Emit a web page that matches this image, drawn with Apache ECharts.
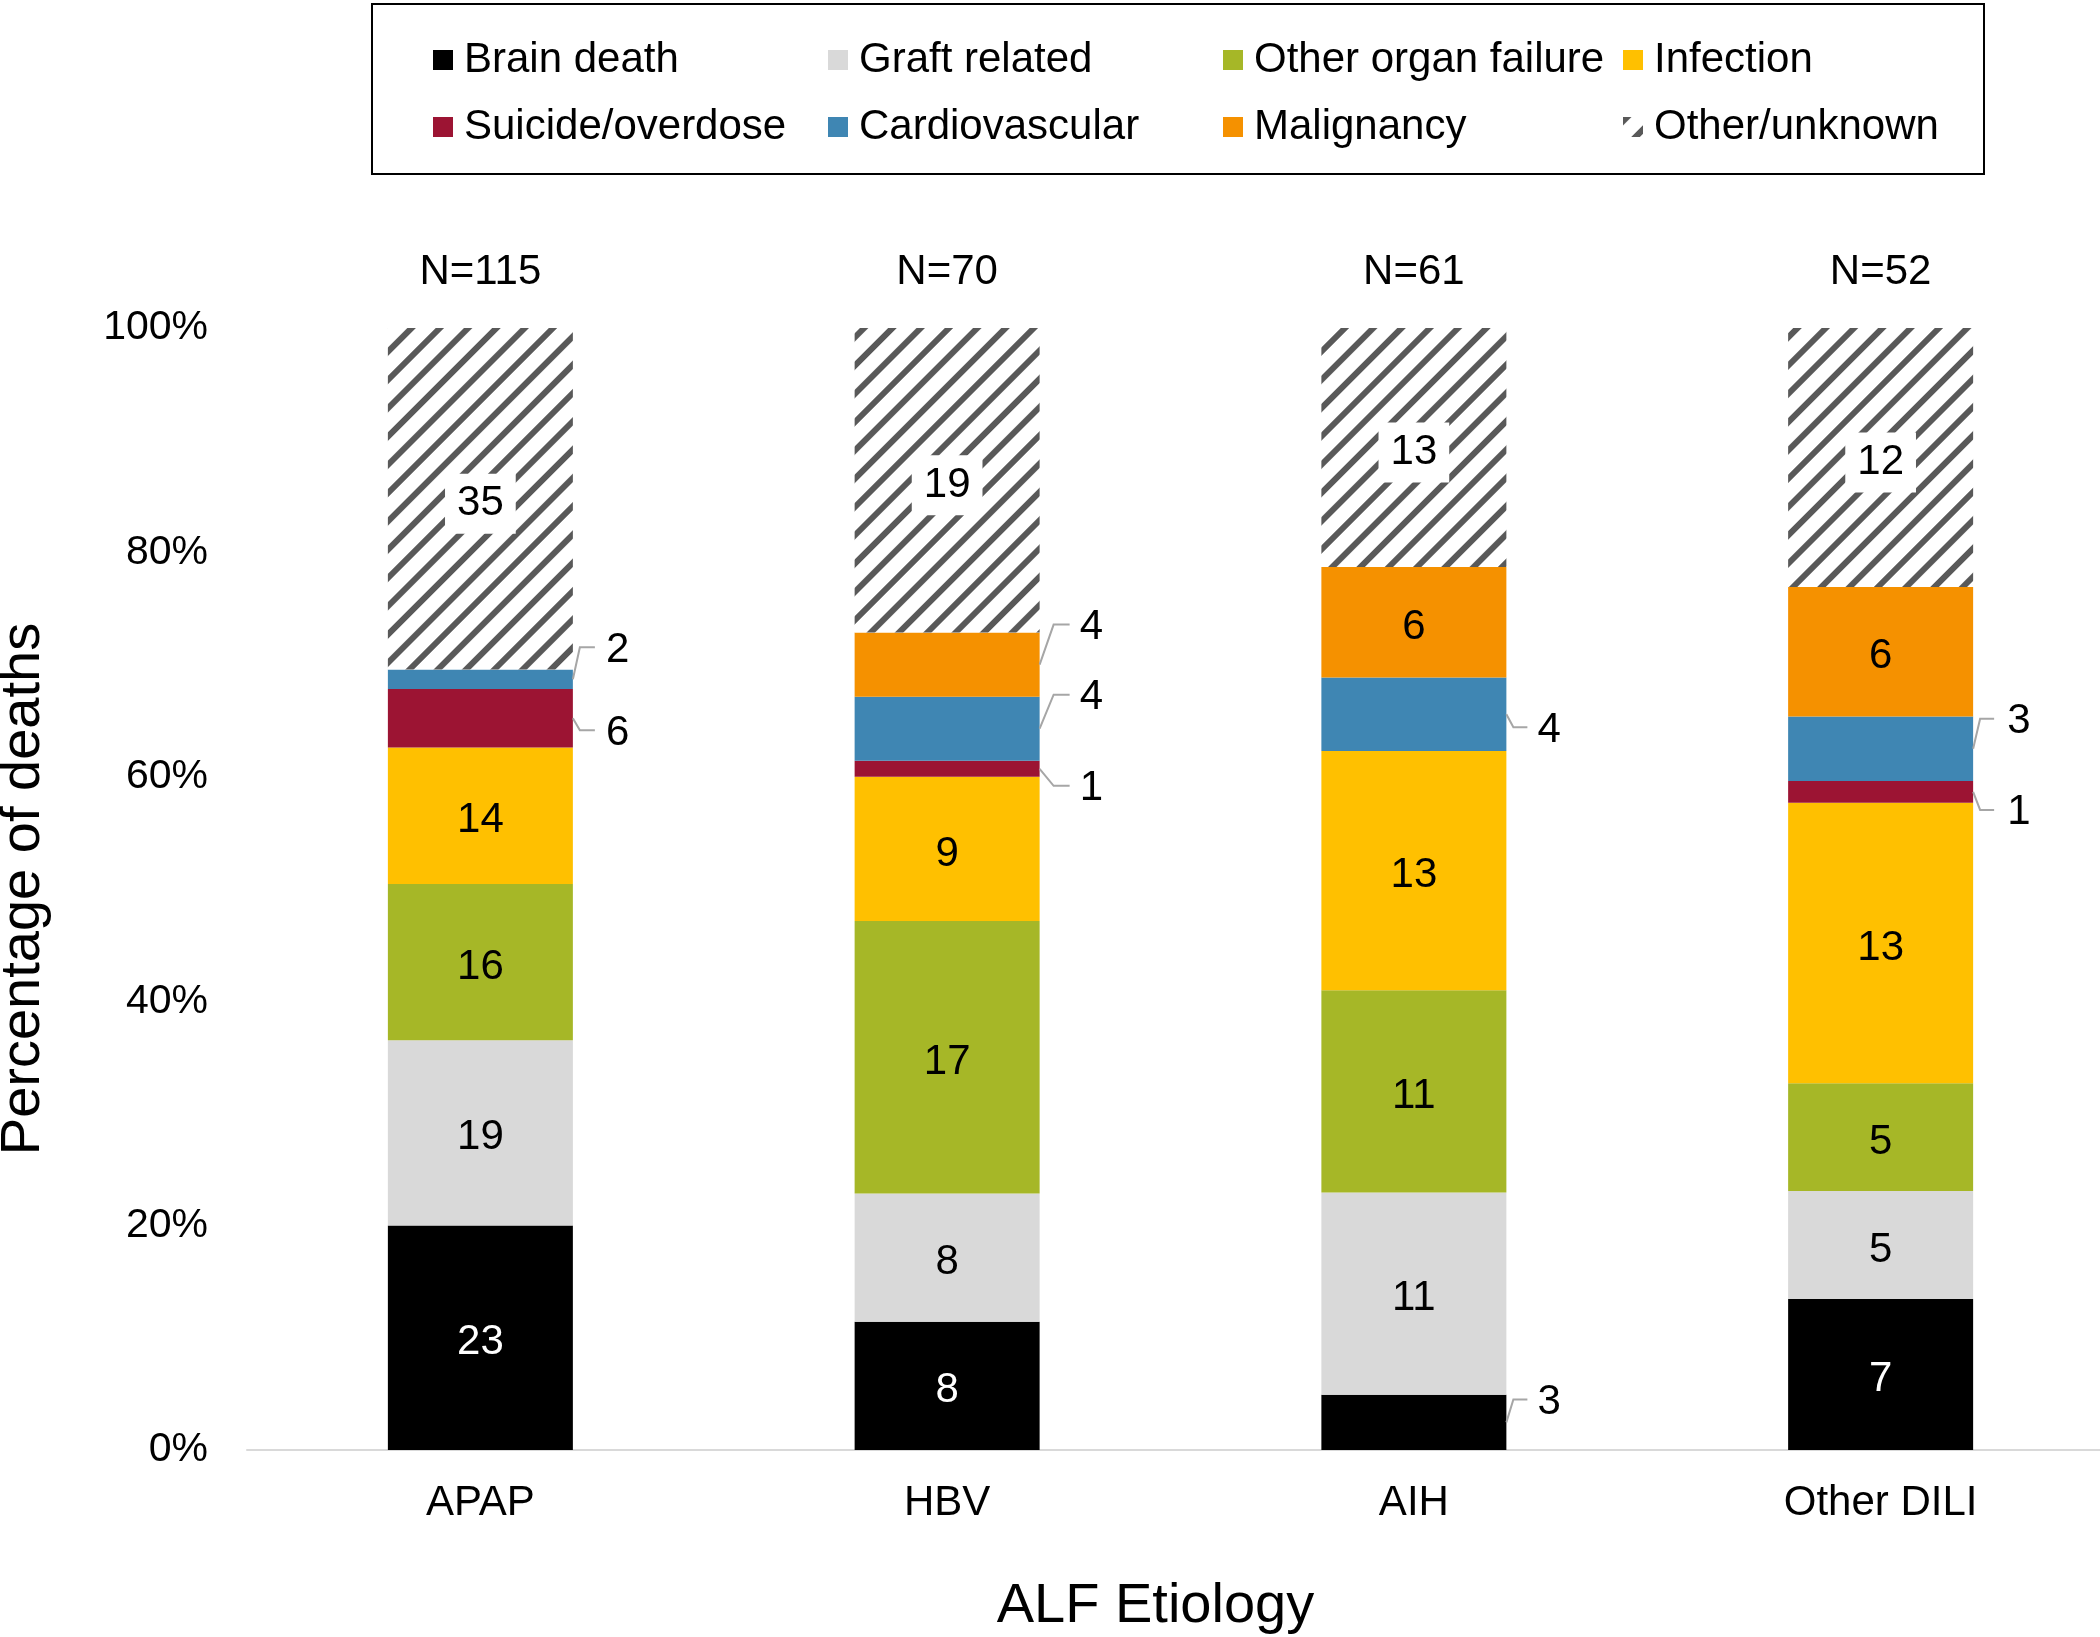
<!DOCTYPE html>
<html><head><meta charset="utf-8">
<script src="https://cdn.jsdelivr.net/npm/echarts@6/dist/echarts.min.js"></script>
<style>html,body{margin:0;padding:0;background:#fff}#c{width:2100px;height:1637px}</style>
</head><body><div id="c"></div>
<script>
// ---- data ----
const categories = ['APAP', 'HBV', 'AIH', 'Other DILI'];
const totals = [115, 70, 61, 52];
const seriesNames = ['Brain death', 'Graft related', 'Other organ failure', 'Infection',
                     'Suicide/overdose', 'Cardiovascular', 'Malignancy', 'Other/unknown'];
const brainDeath        = [23, 8, 3, 7];
const graftRelated      = [19, 8, 11, 5];
const otherOrganFailure = [16, 17, 11, 5];
const infection         = [14, 9, 13, 13];
const suicideOverdose   = [6, 1, 0, 1];
const cardiovascular    = [2, 4, 4, 3];
const malignancy        = [0, 4, 6, 6];
const otherUnknown      = [35, 19, 13, 12];
const seriesValues = [brainDeath, graftRelated, otherOrganFailure, infection,
                      suicideOverdose, cardiovascular, malignancy, otherUnknown];

// ---- styles ----
const FONT = '"Liberation Sans", Arial, Helvetica, sans-serif';
const colors = ['#000000', '#d9d9d9', '#a6b727', '#ffc000', '#9c1433', '#3f86b3', '#f59100', '#ffffff'];
const BAR_W = 185;
// labels placed outside the bar with leader lines: [seriesIndex, categoryIndex]
const outsideLabels = [[5,0],[4,0],[6,1],[5,1],[4,1],[0,2],[5,2],[5,3],[4,3]];
const outsideDy = [-32, 12, -40, -34, 17, -23, 13, -30, 18];
const guideGeom = [{diag:7, len:22, gap:33}, {diag:14, len:30, gap:40}, {diag:7, len:21, gap:31}, {diag:7, len:21, gap:34}];
const legendColumnsX = [433, 828, 1223, 1623];

const hatch = {symbol: 'rect', symbolSize: 1, color: '#595959',
               dashArrayX: [1, 0], dashArrayY: [6, 14], rotation: -Math.PI / 4};

function isOutside(s, i) { return outsideLabels.some(o => o[0] === s && o[1] === i); }
const pct = seriesValues.map(vals => vals.map((v, i) => v / totals[i] * 100));

const barSeries = seriesValues.map((vals, s) => ({
  name: seriesNames[s], type: 'bar', stack: 'total', barWidth: BAR_W,
  itemStyle: s === 7 ? {color: colors[s], decal: hatch} : {color: colors[s]},
  label: {
    show: true, position: 'inside', offset: [0, 5], fontSize: 42, fontFamily: FONT,
    color: s === 0 ? '#ffffff' : '#000000',
    backgroundColor: s === 7 ? '#ffffff' : 'transparent',
    padding: s === 7 ? [9, 12] : 0,
    formatter: p => String(p.data.count)
  },
  data: vals.map((v, i) => ({value: pct[s][i], count: v,
                             label: {show: v > 0 && !isOutside(s, i)}}))
}));

const outsideData = outsideLabels.map(([s, i]) => {
  let cum = 0;
  for (let k = 0; k < s; k++) cum += pct[k][i];
  return [i, cum + pct[s][i] / 2, seriesValues[s][i]];
});

const guideSeries = {
  type: 'custom', silent: true, z: 10, clip: false,
  data: outsideData,
  renderItem: (params, api) => {
    const ci = api.value(0);
    const p = api.coord([ci, api.value(1)]);
    const g = guideGeom[ci];
    const x0 = p[0] + BAR_W / 2, y0 = p[1];
    const ly = y0 + outsideDy[params.dataIndex];
    return {
      type: 'group',
      children: [
        {type: 'polyline', shape: {points: [[x0, y0], [x0 + g.diag, ly], [x0 + g.len, ly]]},
         style: {stroke: '#a6a6a6', lineWidth: 2, fill: null}},
        {type: 'text', style: {text: String(api.value(2)), x: x0 + g.gap, y: ly + 3,
          align: 'left', verticalAlign: 'middle', fontSize: 42, fontFamily: FONT, fill: '#000'}}
      ]
    };
  }
};

const legendText = {fontSize: 42, fontFamily: FONT, color: '#000', lineHeight: 46, padding: [0, 0, 0, 6]};
const legends = legendColumnsX.map((x, c) => ({
  left: x, top: 37, padding: 0, orient: 'vertical', itemGap: 21,
  itemWidth: 20, itemHeight: 20, icon: 'rect', selectedMode: false,
  data: [seriesNames[c], seriesNames[c + 4]], textStyle: legendText
}));

const chart = echarts.init(document.getElementById('c'));
chart.setOption({
  animation: false,
  backgroundColor: '#ffffff',
  textStyle: {fontFamily: FONT},
  graphic: [{type: 'rect', shape: {x: 372, y: 4, width: 1612, height: 170},
             style: {fill: 'none', stroke: '#000', lineWidth: 2}, silent: true}],
  legend: legends,
  grid: {left: 247, right: -14, top: 328, bottom: 187, containLabel: false, outerBoundsMode: 'none'},
  xAxis: [
    {type: 'category', data: categories,
     axisLine: {lineStyle: {color: '#d9d9d9', width: 2}}, axisTick: {show: false},
     axisLabel: {fontSize: 42, margin: 32, color: '#000'},
     name: 'ALF Etiology', nameLocation: 'middle', nameGap: 129,
     nameTextStyle: {fontSize: 56, color: '#000', padding: [0, 50, 0, 0]}},
    {type: 'category', position: 'top', data: totals.map(n => 'N=' + n),
     axisLine: {show: false}, axisTick: {show: false},
     axisLabel: {fontSize: 42, margin: 35, color: '#000'}}
  ],
  yAxis: {type: 'value', min: 0, max: 100, interval: 20,
    axisLabel: {formatter: '{value}%', fontSize: 41, margin: 39, color: '#000', padding: [6, 0, 0, 0]},
    splitLine: {show: false}, axisLine: {show: false}, axisTick: {show: false},
    name: 'Percentage of deaths', nameLocation: 'middle', nameGap: 195,
    nameTextStyle: {fontSize: 56, color: '#000'}},
  series: barSeries.concat([guideSeries])
});
</script></body></html>
